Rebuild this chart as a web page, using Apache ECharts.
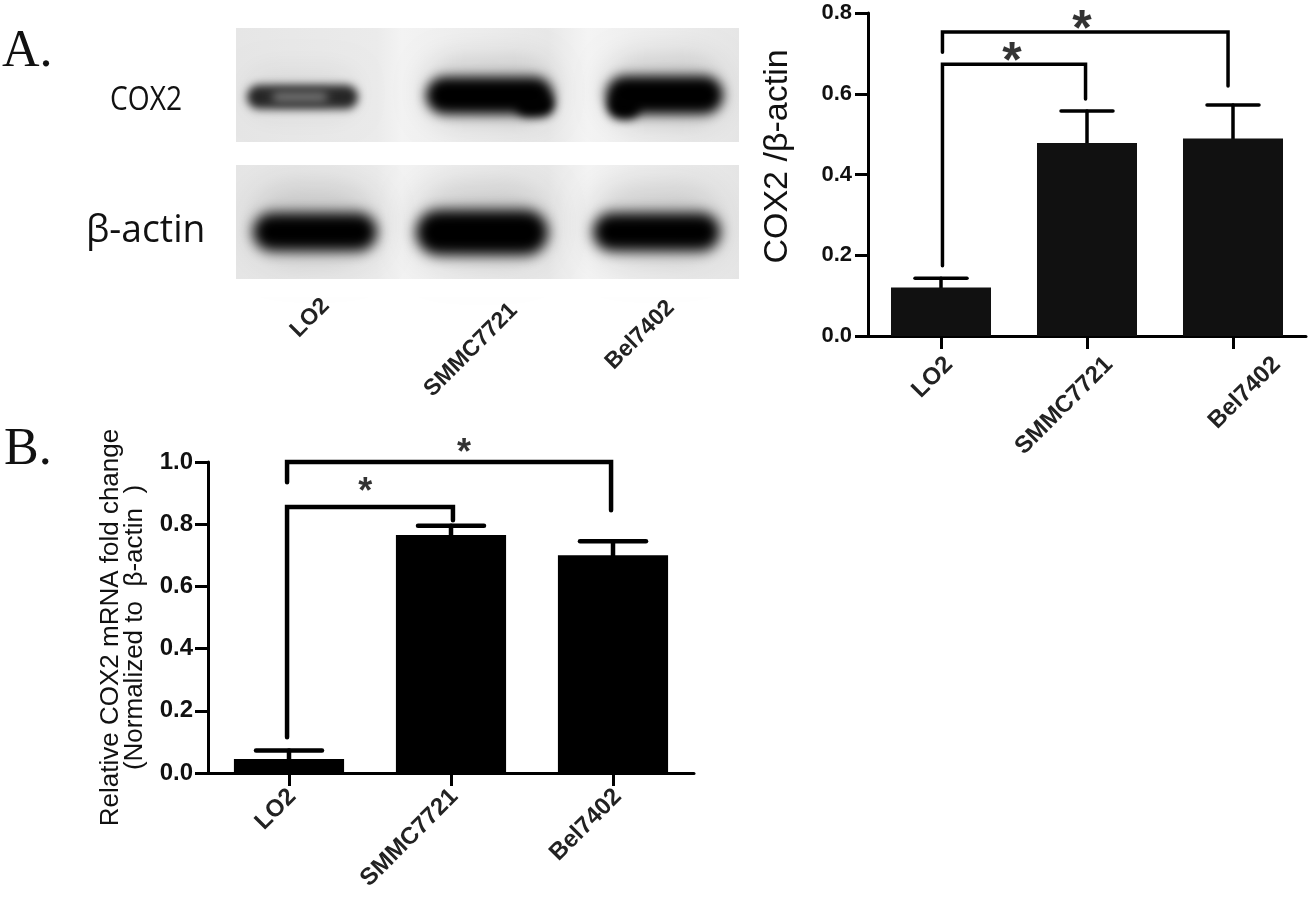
<!DOCTYPE html>
<html><head><meta charset="utf-8">
<style>html,body{margin:0;padding:0;background:#fff}#c{width:1311px;height:904px}</style>
<script src="https://cdn.jsdelivr.net/npm/echarts@6/dist/echarts.min.js"></script>
</head><body><div id="c"></div>
<script>
const categories = ['LO2', 'SMMC7721', 'Bel7402'];
const proteinMeans = [0.12, 0.478, 0.489];
const proteinErrTops = [0.143, 0.557, 0.572];
const mrnaMeans = [0.045, 0.765, 0.70];
const mrnaErrTops = [0.072, 0.795, 0.745];
const proteinTicks = [0, 0.2, 0.4, 0.6, 0.8];
const mrnaTicks = [0, 0.2, 0.4, 0.6, 0.8, 1.0];
const proteinOuterBracket = [[0.01, 0.703], [0.01, 0.753], [1.966, 0.753], [1.966, 0.619]];
const proteinInnerBracket = [[0.01, 0.174], [0.01, 0.673], [0.99, 0.673], [0.99, 0.587]];
const mrnaOuterBracket = [[-0.012, 0.935], [-0.012, 1.0], [1.988, 1.0], [1.988, 0.845]];
const mrnaInnerBracket = [[-0.012, 0.115], [-0.012, 0.855], [1.012, 0.855], [1.012, 0.813]];
const proteinStars = [[0.486, 0.675], [0.966, 0.755]];
const mrnaStars = [[0.47, 0.90], [1.08, 1.025]];

const SANS = '"Liberation Sans", Arial, sans-serif';
const chart = echarts.init(document.getElementById('c'), null, {renderer: 'canvas'});

function errRender(halfW, lw) {
  return function (params, api) {
    const c = api.value(0);
    const p0 = api.coord([c, api.value(1)]);
    const p1 = api.coord([c, api.value(2)]);
    const st = {stroke: '#000', lineWidth: lw, lineCap: 'round', fill: null};
    return {type: 'group', children: [
      {type: 'line', shape: {x1: p0[0], y1: p0[1], x2: p1[0], y2: p1[1]}, style: st},
      {type: 'line', shape: {x1: p1[0] - halfW, y1: p1[1], x2: p1[0] + halfW, y2: p1[1]}, style: st}
    ]};
  };
}
function xCat(gi) {
  return {type: 'category', gridIndex: gi, position: 'bottom', data: categories,
    axisLine: {show: true, lineStyle: {color: '#000', width: 3}},
    axisTick: {show: true, alignWithLabel: true, length: 13, lineStyle: {color: '#000', width: 3}},
    axisLabel: {show: false}};
}
/* label axis: same span as the categories, slanted names hung slightly right of each bar */
function xVal(gi, anchors, size, margin) {
  return {type: 'value', gridIndex: gi, position: 'bottom', min: -0.5, max: 2.5,
    axisLine: {show: false, onZero: false}, axisTick: {show: false}, splitLine: {show: false},
    axisLabel: {show: true, customValues: anchors, rotate: 45, margin: margin, showMinLabel: true, showMaxLabel: true,
      fontFamily: SANS, fontWeight: 'bold', fontSize: size, color: '#222',
      formatter: v => categories[Math.round(v)]}};
}
function yAxis(gi, max, interval, name, nameGap, nameSize, lh, pad, labelSize, margin) {
  return {type: 'value', gridIndex: gi, min: 0, max: max, interval: interval, splitLine: {show: false},
    name: name, nameLocation: 'middle', nameRotate: 90, nameGap: nameGap,
    nameTextStyle: {fontFamily: SANS, fontSize: nameSize, color: '#111', lineHeight: lh, padding: pad},
    axisLine: {show: true, onZero: false, lineStyle: {color: '#000', width: 3}},
    axisTick: {show: true, length: 13, lineStyle: {color: '#000', width: 3}},
    axisLabel: {margin: margin, color: '#111', fontFamily: SANS, fontWeight: 'bold', fontSize: labelSize,
      formatter: v => v.toFixed(1)}};
}
function bracket(data, xi, yi, w) {
  return {type: 'line', xAxisIndex: xi, yAxisIndex: yi, data: data, symbol: 'none', clip: false, silent: true,
    lineStyle: {color: '#000', width: w, cap: 'round', join: 'miter'}, z: 5};
}
function stars(data, xi, yi, size) {
  return {type: 'scatter', xAxisIndex: xi, yAxisIndex: yi, data: data, symbolSize: 1, clip: false,
    itemStyle: {color: 'transparent'},
    label: {show: true, position: 'inside', formatter: '*', color: '#000', textBorderWidth: 0, fontFamily: SANS, fontWeight: 'bold', fontSize: size}, z: 6};
}

/* Blot panels: only the blurred shadow of each shape is on the canvas */
const OFF = 3000;
function band(x, y, w, h, color, blur) {
  return {type: 'rect', shape: {x: x - OFF, y: y, width: w, height: h, r: h / 2},
    style: {fill: color, shadowBlur: blur, shadowColor: color, shadowOffsetX: OFF, shadowOffsetY: 0}, silent: true};
}
function blotPanel(x, y, w, h) {
  return {type: 'rect', shape: {x: x, y: y, width: w, height: h},
    style: {fill: new echarts.graphic.LinearGradient(0, 0, 1, 0, [
      {offset: 0, color: '#e6e6e6'}, {offset: 0.28, color: '#ebebeb'}, {offset: 0.33, color: '#f3f3f3'},
      {offset: 0.62, color: '#e8e8e8'}, {offset: 0.7, color: '#f4f4f4'}, {offset: 1, color: '#e6e6e6'}])}, silent: true};
}
function mask(x, y, w, h) { return {type: 'rect', shape: {x: x, y: y, width: w, height: h}, style: {fill: '#fff'}, silent: true}; }
function txt(t, x, y, size, fam, extra) {
  return Object.assign({type: 'text', x: x, y: y, silent: true,
    style: {text: t, fontSize: size, fontFamily: fam, fill: '#111', textAlign: 'left', textVerticalAlign: 'middle'}}, extra || {});
}
function rotLabel(t, cx, cy) {
  return {type: 'text', x: cx, y: cy, rotation: Math.PI / 4, silent: true,
    style: {text: t, fontSize: 23, fontFamily: SANS, fontWeight: 'bold', fill: '#222', textAlign: 'center', textVerticalAlign: 'middle'}};
}

const graphics = [
  blotPanel(236, 28, 503, 114),
  blotPanel(236, 165, 503, 114),
  band(248, 70, 108, 46, 'rgba(0,0,0,0.25)', 26),
  band(425, 58, 128, 66, 'rgba(0,0,0,0.38)', 28),
  band(605, 56, 118, 70, 'rgba(0,0,0,0.38)', 28),
  band(252, 186, 125, 76, 'rgba(0,0,0,0.38)', 34),
  band(415, 184, 133, 80, 'rgba(0,0,0,0.38)', 34),
  band(592, 186, 128, 76, 'rgba(0,0,0,0.38)', 34),
  band(247, 85, 111, 24, '#262626', 8),
  band(272, 92, 56, 10, '#777', 10),
  band(426, 77, 127, 37, '#000', 12),
  band(516, 94, 38, 22, '#000', 10),
  band(606, 76, 117, 38, '#000', 12),
  band(608, 94, 32, 25, '#000', 10),
  band(253, 213, 124, 38, '#000', 13),
  band(416, 210, 132, 45, '#000', 13),
  band(593, 213, 127, 38, '#000', 13),
  mask(200, 0, 36, 300), mask(739, 0, 20, 300), mask(236, 0, 503, 28),
  mask(236, 142, 503, 23), mask(236, 279, 503, 18),
  txt('A.', 2, 52, 52, '"Liberation Serif", serif'),
  txt('B.', 4, 450, 52, '"Liberation Serif", serif'),
  txt('COX2', 110, 101, 32, '"Open Sans", sans-serif', {scaleX: 0.88}),
  txt('β-actin', 86, 231, 38, '"Open Sans", sans-serif', {scaleX: 0.98}),
  rotLabel('LO2', 310, 318),
  rotLabel('SMMC7721', 471, 350),
  rotLabel('Bel7402', 640, 335)
];

const option = {
  animation: false,
  backgroundColor: '#fff',
  graphic: {elements: graphics},
  grid: [
    {left: 868, top: 13, width: 438, height: 323, outerBoundsMode: 'none'},
    {left: 208, top: 462, width: 486, height: 311, outerBoundsMode: 'none'}
  ],
  xAxis: [xCat(0), xCat(1),
    xVal(0, [0.055, 1.15, 2.3], 24, 25),
    xVal(1, [0.02, 1.02, 2.03], 24, 20)],
  yAxis: [
    yAxis(0, proteinTicks[proteinTicks.length - 1], 0.2, 'COX2 /β-actin', 72, 34, 36, [0, 0, 0, 36], 22, 16),
    yAxis(1, mrnaTicks[mrnaTicks.length - 1], 0.2, 'Relative COX2 mRNA fold change\n(Normalized to  β-actin  )', 61, 26, 24, [0, 20, 0, 0], 24, 15)
  ],
  series: [
    {type: 'bar', xAxisIndex: 0, yAxisIndex: 0, data: proteinMeans, barWidth: '68.5%', itemStyle: {color: '#111'}, z: 3},
    {type: 'custom', xAxisIndex: 0, yAxisIndex: 0, renderItem: errRender(26, 3.5), clip: false, z: 2,
      encode: {x: 0, y: 2}, data: categories.map((c, i) => [i, proteinMeans[i], proteinErrTops[i]])},
    bracket(proteinOuterBracket, 2, 0, 3.5),
    bracket(proteinInnerBracket, 2, 0, 3.5),
    stars(proteinStars, 2, 0, 50),
    {type: 'bar', xAxisIndex: 1, yAxisIndex: 1, data: mrnaMeans, barWidth: '68%', itemStyle: {color: '#000'}, z: 3},
    {type: 'custom', xAxisIndex: 1, yAxisIndex: 1, renderItem: errRender(33, 4.5), clip: false, z: 2,
      encode: {x: 0, y: 2}, data: categories.map((c, i) => [i, mrnaMeans[i], mrnaErrTops[i]])},
    bracket(mrnaOuterBracket, 3, 1, 4.5),
    bracket(mrnaInnerBracket, 3, 1, 4.5),
    stars(mrnaStars, 3, 1, 36)
  ]
};
chart.setOption(option);
</script></body></html>
